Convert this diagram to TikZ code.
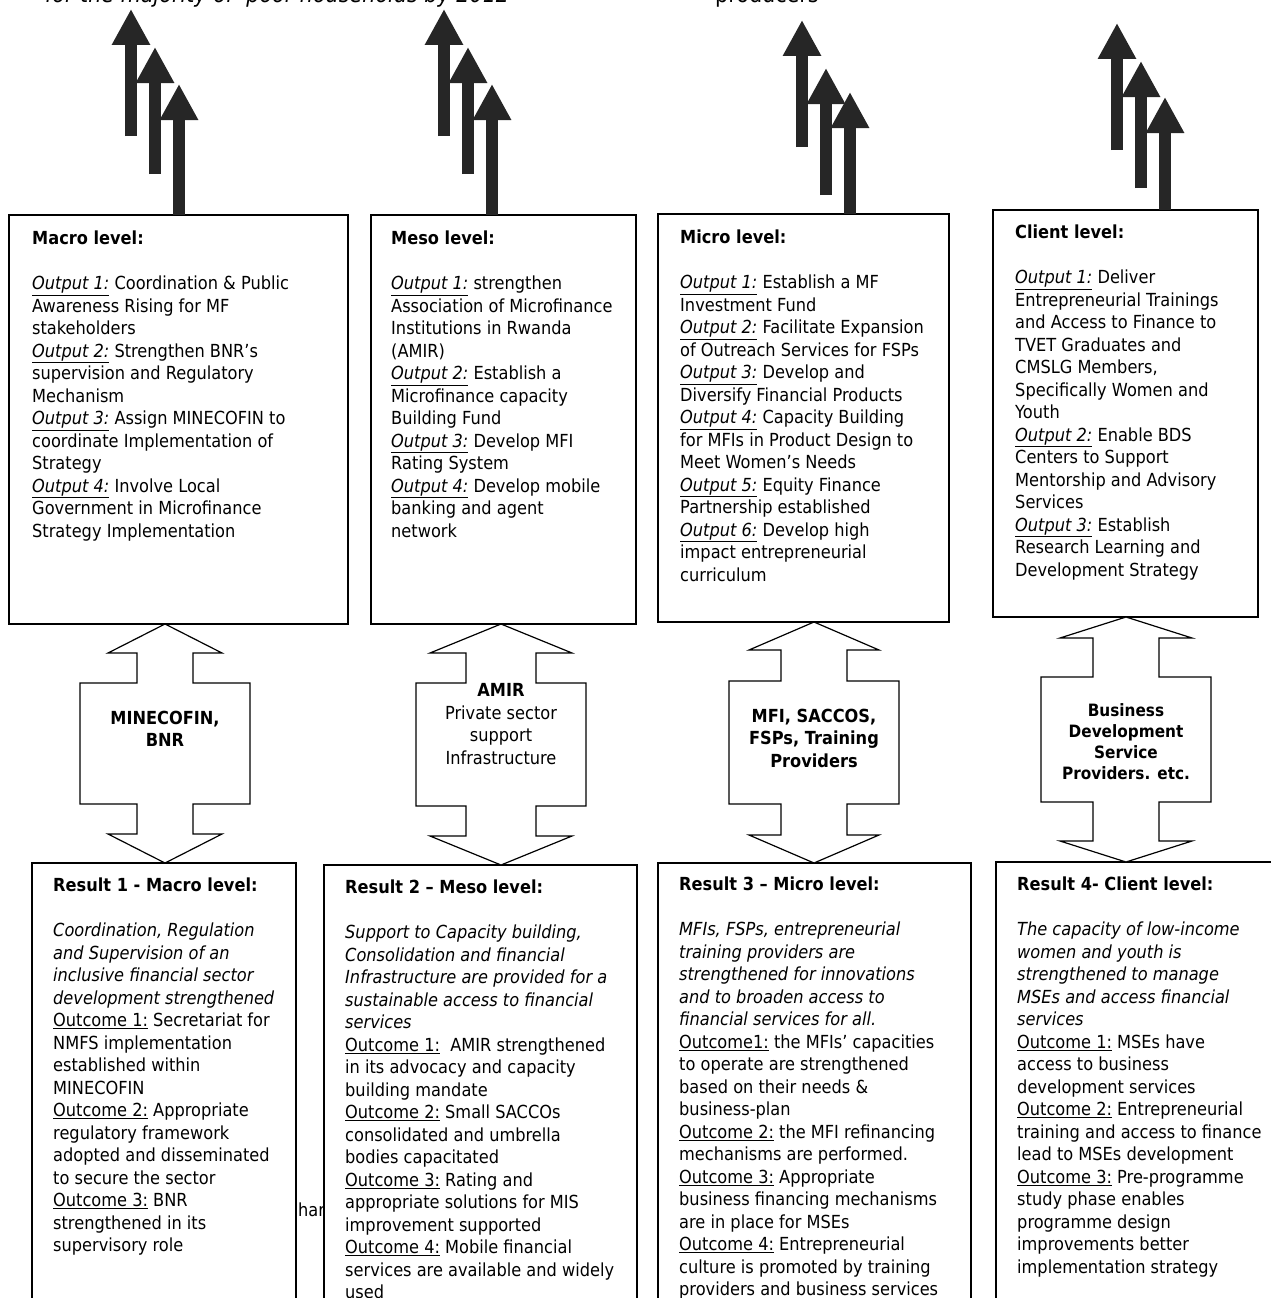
\documentclass[tikz,border=0pt]{standalone}
\usepackage{fontspec}
\setmainfont{DejaVu Sans}[FakeStretch=0.9]
\usetikzlibrary{arrows.meta,calc}
\newcommand{\boxfont}{\fontsize{18}{22.5}\selectfont}
\newcommand{\outp}[1]{\underline{\textit{Output #1:}}}
\newcommand{\outc}[1]{\underline{Outcome #1:}}
\begin{document}
\begin{tikzpicture}[x=1pt,y=-1pt,
  frame/.style={draw,line width=1.2pt,fill=white,inner sep=0pt,outer sep=0pt,anchor=north west},
  txt/.style={anchor=north west,inner sep=0pt,align=left,font=\boxfont},
  liftarrow/.style={line width=11.5pt,black!85,-{Triangle[length=36pt,width=36pt]}},
  dbl/.style={draw,line width=1.2pt,fill=white,line join=miter},
  lbl/.style={align=center,inner sep=0pt,font=\boxfont\bfseries}]
\useasboundingbox (0,0) rectangle (1271,1298);
\fill[white] (0,0) rectangle (1271,1298);
\clip (0,0) rectangle (1271,1298);

% cut-off lines at the top
\node[anchor=base west,inner sep=0pt,font=\fontsize{23}{27}\selectfont\itshape] (goal) at (45,3) {for the majority of\ \ poor households by 2012};
\node[anchor=base west,inner sep=0pt,font=\fontsize{23}{27}\selectfont] (prod) at (715,3) {producers};

% level boxes
\node[frame,minimum width=339pt,minimum height=409pt] (mac) at (9,215){};
\node[frame,minimum width=265pt,minimum height=409pt] (mes) at (371,215){};
\node[frame,minimum width=291pt,minimum height=408pt] (mic) at (658,214){};
\node[frame,minimum width=265pt,minimum height=407pt] (cli) at (993,210){};
% result boxes (run off the page)
\node[frame,minimum width=264pt,minimum height=500pt] (resa) at (32,863){};
\node[frame,minimum width=313pt,minimum height=500pt] (resb) at (324,865){};
\node[frame,minimum width=313pt,minimum height=500pt] (resc) at (658,863){};
\node[frame,minimum width=320pt,minimum height=500pt] (resd) at (996,862){};

\node[txt] (mactxt) at (32,229) {\textbf{Macro level:}\strut\\[22.5pt]
\outp{1} Coordination \& Public\\
Awareness Rising for MF\\
stakeholders\\
\outp{2} Strengthen BNR’s\\
supervision and Regulatory\\
Mechanism\\
\outp{3} Assign MINECOFIN to\\
coordinate Implementation of\\
Strategy\\
\outp{4} Involve Local\\
Government in Microfinance\\
Strategy Implementation};

\node[txt] (mestxt) at (391,229) {\textbf{Meso level:}\strut\\[22.5pt]
\outp{1} strengthen\\
Association of Microfinance\\
Institutions in Rwanda\\
(AMIR)\\
\outp{2} Establish a\\
Microfinance capacity\\
Building Fund\\
\outp{3} Develop MFI\\
Rating System\\
\outp{4} Develop mobile\\
banking and agent\\
network};

\node[txt] (mictxt) at (680,228) {\textbf{Micro level:}\strut\\[22.5pt]
\outp{1} Establish a MF\\
Investment Fund\\
\outp{2} Facilitate Expansion\\
of Outreach Services for FSPs\\
\outp{3} Develop and\\
Diversify Financial Products\\
\outp{4} Capacity Building\\
for MFIs in Product Design to\\
Meet Women’s Needs\\
\outp{5} Equity Finance\\
Partnership established\\
\outp{6} Develop high\\
impact entrepreneurial\\
curriculum};

\node[txt] (clitxt) at (1015,223) {\textbf{Client level:}\strut\\[22.5pt]
\outp{1} Deliver\\
Entrepreneurial Trainings\\
and Access to Finance to\\
TVET Graduates and\\
CMSLG Members,\\
Specifically Women and\\
Youth\\
\outp{2} Enable BDS\\
Centers to Support\\
Mentorship and Advisory\\
Services\\
\outp{3} Establish\\
Research Learning and\\
Development Strategy};

\node[txt] (resatxt) at (53,876) {\textbf{Result 1 - Macro level:}\strut\\[22.5pt]
\textit{Coordination, Regulation}\\
\textit{and Supervision of an}\\
\textit{inclusive financial sector}\\
\textit{development strengthened}\\
\outc{1} Secretariat for\\
NMFS implementation\\
established within\\
MINECOFIN\\
\outc{2} Appropriate\\
regulatory framework\\
adopted and disseminated\\
to secure the sector\\
\outc{3} BNR\\
strengthened in its\\
supervisory role};

\node[txt] (resbtxt) at (345,878) {\textbf{Result 2 – Meso level:}\strut\\[22.5pt]
\textit{Support to Capacity building,}\\
\textit{Consolidation and financial}\\
\textit{Infrastructure are provided for a}\\
\textit{sustainable access to financial}\\
\textit{services}\\
\outc{1}\ \ AMIR strengthened\\
in its advocacy and capacity\\
building mandate\\
\outc{2} Small SACCOs\\
consolidated and umbrella\\
bodies capacitated\\
\outc{3} Rating and\\
appropriate solutions for MIS\\
improvement supported\\
\outc{4} Mobile financial\\
services are available and widely\\
used};

\node[txt] (resctxt) at (679,875) {\textbf{Result 3 – Micro level:}\strut\\[22.5pt]
\textit{MFIs, FSPs, entrepreneurial}\\
\textit{training providers are}\\
\textit{strengthened for innovations}\\
\textit{and to broaden access to}\\
\textit{financial services for all.}\\
\underline{Outcome1:} the MFIs’ capacities\\
to operate are strengthened\\
based on their needs \&\\
business-plan\\
\outc{2} the MFI refinancing\\
mechanisms are performed.\\
\outc{3} Appropriate\\
business financing mechanisms\\
are in place for MSEs\\
\outc{4} Entrepreneurial\\
culture is promoted by training\\
providers and business services};

\node[txt] (resdtxt) at (1017,875) {\textbf{Result 4- Client level:}\strut\\[22.5pt]
\textit{The capacity of low-income}\\
\textit{women and youth is}\\
\textit{strengthened to manage}\\
\textit{MSEs and access financial}\\
\textit{services}\\
\outc{1} MSEs have\\
access to business\\
development services\\
\outc{2} Entrepreneurial\\
training and access to finance\\
lead to MSEs development\\
\outc{3} Pre-programme\\
study phase enables\\
programme design\\
improvements better\\
implementation strategy};

\node[anchor=base west,inner sep=0pt,font=\boxfont] (frag) at (298,1216) {har};

% rising arrows above each level box
\foreach \b/\x/\ya/\yb/\yc in {mac/131/9/47/84, mes/444/9/47/84, mic/802/20/68/92, cli/1117/23/61/97}{
    \draw[liftarrow] (\x,\ya+127) -- (\x,\ya);
    \draw[liftarrow] (\x+24,\yb+127) -- (\x+24,\yb);
    \path (\x+48,0) coordinate (ax);
    \draw[liftarrow] (\b.north -| ax) -- (\x+48,\yc);
}

% double arrows between level and result boxes
\foreach \up/\dn/\cx/\hw/\nw/\hl/\nl in {mac/resa/165/57/28/29/30, mes/resb/501/71/35/29/30, mic/resc/814/65/33/28/31, cli/resd/1126/66/33/21/39}{
    \path (\cx,0) coordinate (cc);
    \coordinate (dt) at (\up.south -| cc);
    \coordinate (db) at (\dn.north -| cc);
    \draw[dbl] (dt) -- ++(\hw,\hl) -- ++(\nw-\hw,0) -- ++(0,\nl) -- ++(85-\nw,0)
        -- ($(db)+(85,-\hl-\nl)$) -- ++(\nw-85,0) -- ++(0,\nl) -- ++(\hw-\nw,0) -- (db)
        -- ++(-\hw,-\hl) -- ++(\hw-\nw,0) -- ++(0,-\nl) -- ++(\nw-85,0)
        -- ($(dt)+(-85,\hl+\nl)$) -- ++(85-\nw,0) -- ++(0,-\nl) -- ++(\nw-\hw,0) -- cycle;
}
\node[lbl] (lmac) at (165,729) {MINECOFIN,\\BNR};
\node[lbl,font=\boxfont] (lmes) at (501,724) {\textbf{AMIR}\\Private sector\\support\\Infrastructure};
\node[lbl] (lmic) at (814,738) {MFI, SACCOS,\\FSPs, Training\\Providers};
\node[lbl,font=\fontsize{17}{21}\selectfont\bfseries] (lcli) at (1126,742) {Business\\Development\\Service\\Providers. etc.};
\end{tikzpicture}
\end{document}
